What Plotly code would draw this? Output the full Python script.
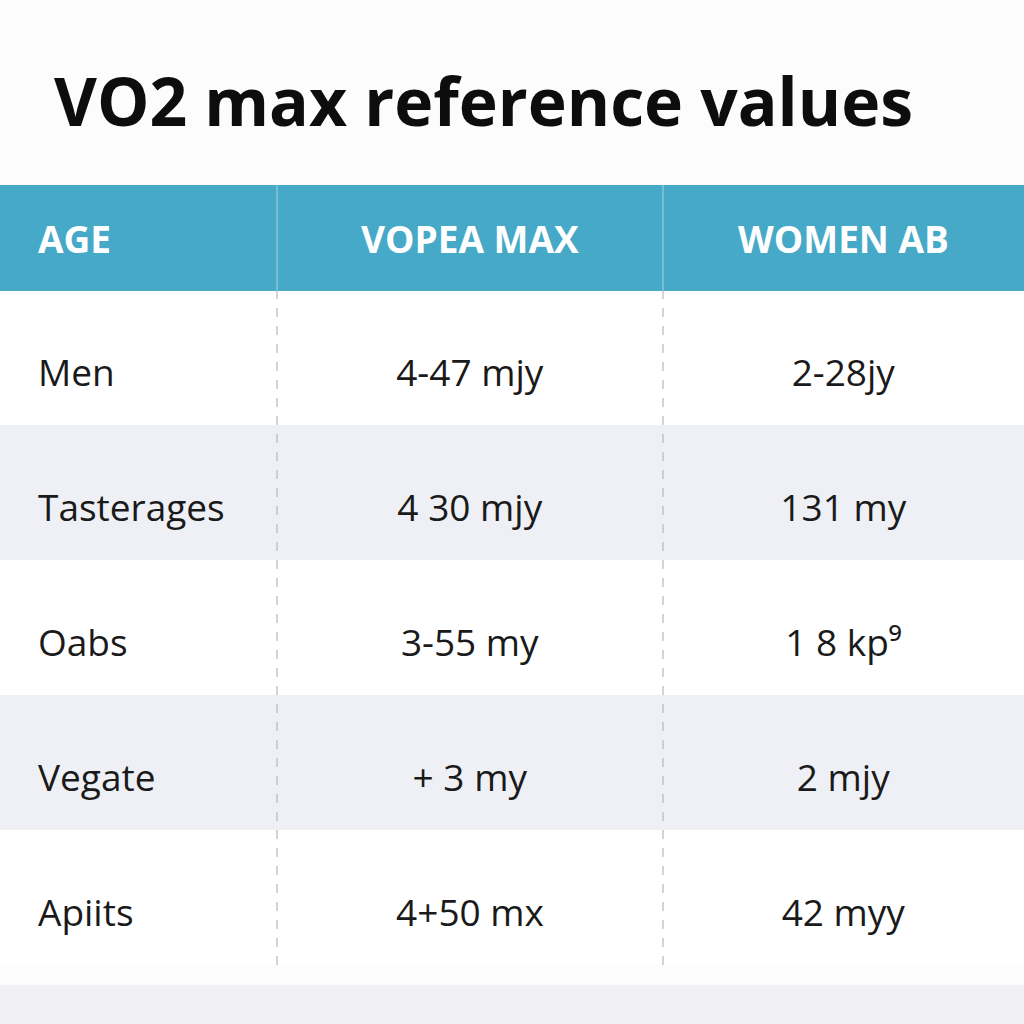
import plotly.graph_objects as go

title_text = "VO2 max reference values"
headers = ["AGE", "VOPEA MAX", "WOMEN AB"]
age_groups = ["Men", "Tasterages", "Oabs", "Vegate", "Apiits"]
vo2_max = ["4-47 mjy", "4 30 mjy", "3-55 my", "+ 3 my", "4+50 mx"]
women_ab = ["2-28jy", "131 my", "1 8 kp⁹", "2 mjy", "42 myy"]

W = 1024
white = "#ffffff"
gray = "#eef0f5"
row_fill = [white, gray, white, gray, white]
header_fill = "#45a9c7"

def cell(t):
    return "\u00a0<br>" + t

fig = go.Figure()
fig.add_trace(go.Table(
    domain=dict(x=[0, 1], y=[1 - 965 / W, 1 - 205 / W]),
    columnwidth=[30, 247, 386, 361],
    header=dict(
        values=[""] + ["<b>" + h + "</b>" for h in headers],
        fill_color=header_fill,
        line=dict(color=header_fill, width=1),
        align=["left", "left", "center", "center"],
        font=dict(family="Open Sans", size=37, color="white"),
        height=85,
    ),
    cells=dict(
        values=[[""] * 5, [cell(t) for t in age_groups],
                [cell(t) for t in vo2_max], [cell(t) for t in women_ab]],
        fill_color=[row_fill] * 4,
        line=dict(color=[row_fill] * 4, width=1),
        align=["left", "left", "center", "center"],
        font=dict(family="Open Sans", size=37, color="#1a1a1a"),
        height=135,
    ),
))

# top strip of the header band
fig.add_shape(type="rect", xref="paper", yref="paper", x0=0, x1=1,
              y0=1 - 206 / W, y1=1 - 185 / W, fillcolor=header_fill, line=dict(width=0), layer="below")
# bottom soft band
fig.add_shape(type="rect", xref="paper", yref="paper", x0=0, x1=1,
              y0=0, y1=1 - 985 / W, fillcolor="#f1f1f3", line=dict(width=0), layer="below")

# column dividers
for xd in [277, 663]:
    fig.add_shape(type="line", xref="paper", yref="paper",
                  x0=xd / W, x1=xd / W, y0=1 - 185 / W, y1=1 - 290 / W,
                  line=dict(color="#a9d3e0", width=1))
    fig.add_shape(type="line", xref="paper", yref="paper",
                  x0=xd / W, x1=xd / W, y0=1 - 290 / W, y1=1 - 965 / W,
                  line=dict(color="#b8b8b8", width=1.2, dash="dash"))

fig.add_annotation(text="<b>" + title_text + "</b>", xref="paper", yref="paper",
                   x=52 / W, y=1 - 100 / W, xanchor="left", yanchor="middle",
                   showarrow=False, font=dict(family="Open Sans", size=66, color="#0d0d0d", weight=800))

fig.update_layout(width=W, height=W, margin=dict(l=0, r=0, t=0, b=0),
                  paper_bgcolor="#fcfcfd", plot_bgcolor="#fcfcfd")
fig.write_html("out.html", config={"displayModeBar": False},
               post_script="document.body.style.margin='0';document.body.style.overflow='hidden';")
